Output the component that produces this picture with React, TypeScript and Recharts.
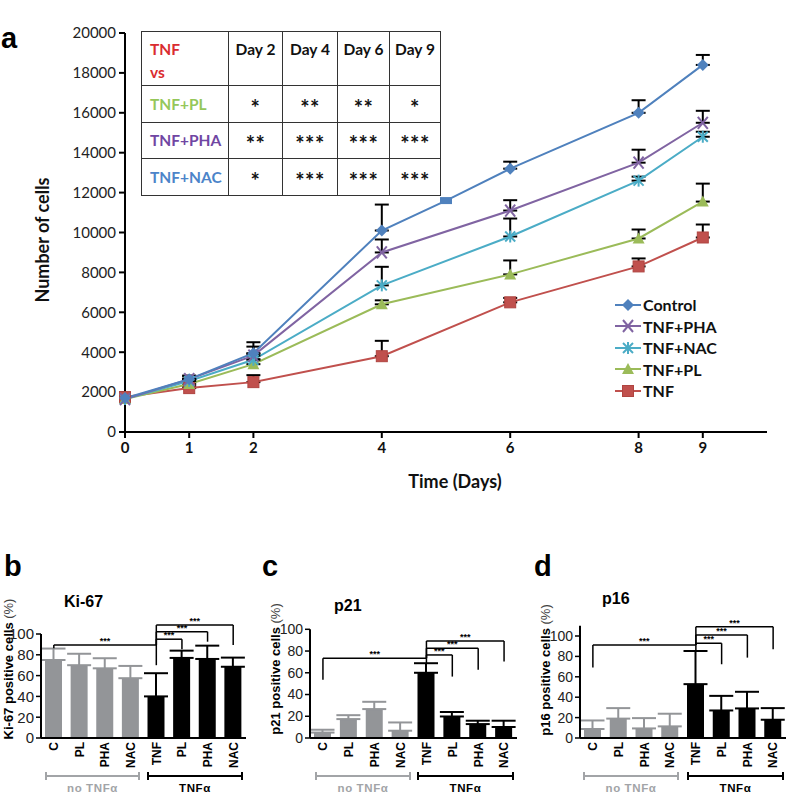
import React from "react";
import {
  LineChart,
  Line,
  XAxis,
  YAxis,
  ErrorBar,
  Legend,
  BarChart,
  Bar,
  Cell,
  ReferenceLine,
} from "recharts";

// ---------- panel a: number of cells over time ----------
const days = [0, 1, 2, 4, 5, 6, 8, 9];
const dayTicks = [0, 1, 2, 4, 6, 8, 9];
const cellTicks = [0, 2000, 4000, 6000, 8000, 10000, 12000, 14000, 16000, 18000, 20000];

const controlCells = [1700, 2650, 3950, 10100, 11600, 13200, 16000, 18400];
const controlUp = [0, 180, 550, 1300, 0, 350, 630, 500];
const phaCells = [1650, 2650, 3830, 9000, null, 11100, 13500, 15500];
const phaUp = [0, 150, 450, 650, 0, 520, 650, 600];
const nacCells = [1650, 2560, 3620, 7350, null, 9800, 12600, 14800];
const nacUp = [0, 120, 300, 930, 0, 900, 200, 250];
const plCells = [1650, 2410, 3400, 6400, null, 7900, 9700, 11550];
const plUp = [0, 100, 250, 200, 0, 700, 450, 900];
const tnfCells = [1750, 2200, 2500, 3800, null, 6500, 8300, 9750];
const tnfUp = [0, 100, 350, 770, 0, 220, 400, 650];

const series = [
  { key: "control", name: "Control", color: "#4F81BD", shape: "diamond", vals: controlCells, up: controlUp },
  { key: "pha", name: "TNF+PHA", color: "#8064A2", shape: "x", vals: phaCells, up: phaUp },
  { key: "nac", name: "TNF+NAC", color: "#4BACC6", shape: "star", vals: nacCells, up: nacUp },
  { key: "pl", name: "TNF+PL", color: "#9BBB59", shape: "triangle", vals: plCells, up: plUp },
  { key: "tnf", name: "TNF", color: "#C0504D", shape: "square", vals: tnfCells, up: tnfUp },
];

const tableDays = ["Day 2", "Day 4", "Day 6", "Day 9"];
const tableNames = ["TNF+PL", "TNF+PHA", "TNF+NAC"];
const tableColors = ["#95C75A", "#7046A3", "#4C84C9"];
const tableStars = [
  ["*", "**", "**", "*"],
  ["**", "***", "***", "***"],
  ["*", "***", "***", "***"],
];

// ---------- panels b-d: positive cells (%) ----------
const barIds = ["C", "PL0", "PHA0", "NAC0", "TNF", "PL1", "PHA1", "NAC1"];
const barLabels = ["C", "PL", "PHA", "NAC", "TNF", "PL", "PHA", "NAC"];
const withTnf = [false, false, false, false, true, true, true, true];
const pctTicks = [0, 20, 40, 60, 80, 100];

const ki67 = [75, 70, 67, 57.5, 40, 77, 76, 68.5];
const ki67Err = [11, 11, 9.7, 11.8, 22.3, 7, 12.8, 8.8];
const p21 = [5, 17.4, 26.6, 6.7, 60, 19.8, 12.8, 10.1];
const p21Err = [2.6, 3.6, 6.7, 7.6, 8.8, 4.1, 3.1, 5.8];
const p16 = [8.8, 19, 9.4, 11.4, 52.8, 27, 29, 17.9];
const p16Err = [8.4, 10.3, 10.1, 12.4, 32.5, 14.3, 16.3, 11.4];

const ki67Brackets = [
  { from: "C", to: "TNF", y: 89.5, fromEnd: 86.3, toEnd: 70 },
  { from: "TNF", to: "PL1", y: 95, fromEnd: 89.5, toEnd: 85.3 },
  { from: "TNF", to: "PHA1", y: 102.2, fromEnd: 89.5, toEnd: 92.6 },
  { from: "TNF", to: "NAC1", y: 108.6, fromEnd: 89.5, toEnd: 89.5 },
];
const p21Brackets = [
  { from: "C", to: "TNF", y: 73.4, fromEnd: 53.5, toEnd: 68.8 },
  { from: "TNF", to: "PL1", y: 76.4, fromEnd: 73.4, toEnd: 56.5 },
  { from: "TNF", to: "PHA1", y: 82.6, fromEnd: 73.4, toEnd: 62.7 },
  { from: "TNF", to: "NAC1", y: 89.3, fromEnd: 73.4, toEnd: 70.3 },
];
const p16Brackets = [
  { from: "C", to: "TNF", y: 91.2, fromEnd: 69, toEnd: 85.3 },
  { from: "TNF", to: "PL1", y: 92.9, fromEnd: 91.2, toEnd: 72.3 },
  { from: "TNF", to: "PHA1", y: 101, fromEnd: 91.2, toEnd: 78.8 },
  { from: "TNF", to: "NAC1", y: 109.1, fromEnd: 91.2, toEnd: 87 },
];

const GREY = "#939598";
const GREY_TEXT = "#A2A4A7";
const ARIAL = "'Liberation Sans', Arial, sans-serif";
const CAL = "Lato, 'Open Sans', sans-serif";

const lineData = days.map((d, i) => {
  const row: any = { day: d };
  series.forEach((s) => {
    row[s.key] = s.vals[i];
    row[s.key + "Err"] = s.vals[i] != null && s.up[i] ? [0, s.up[i]] : null;
  });
  return row;
});

function Marker({ cx, cy, shape, color }: any) {
  if (cx == null || cy == null) return null;
  switch (shape) {
    case "diamond":
      return <polygon points={`${cx},${cy - 6} ${cx + 6},${cy} ${cx},${cy + 6} ${cx - 6},${cy}`} fill={color} />;
    case "x":
      return (
        <g stroke={color} strokeWidth={2}>
          <line x1={cx - 5} y1={cy - 6} x2={cx + 5} y2={cy + 6} />
          <line x1={cx - 5} y1={cy + 6} x2={cx + 5} y2={cy - 6} />
        </g>
      );
    case "star":
      return (
        <g stroke={color} strokeWidth={2}>
          <line x1={cx - 5} y1={cy - 5} x2={cx + 5} y2={cy + 5} />
          <line x1={cx - 5} y1={cy + 5} x2={cx + 5} y2={cy - 5} />
          <line x1={cx} y1={cy - 6} x2={cx} y2={cy + 6} />
        </g>
      );
    case "triangle":
      return <polygon points={`${cx},${cy - 6} ${cx + 6},${cy + 5} ${cx - 6},${cy + 5}`} fill={color} />;
    case "square":
      return <rect x={cx - 5.5} y={cy - 5.5} width={11} height={11} fill={color} stroke="#B04440" strokeWidth={1} />;
    case "flat":
      return <rect x={cx - 6} y={cy - 3.5} width={12} height={7} fill={color} />;
    default:
      return null;
  }
}

function makeDot(s: any) {
  return (p: any) => {
    const shape = s.key === "control" && p.payload && p.payload.day === 5 ? "flat" : s.shape;
    return (
      <g key={`${s.key}-dot-${p.index}`}>
        <Marker cx={p.cx} cy={p.cy} shape={shape} color={s.color} />
      </g>
    );
  };
}

function LegendBox() {
  return (
    <div style={{ fontFamily: CAL, fontWeight: 700, fontSize: 16, color: "#111" }}>
      {series.map((s) => (
        <div key={s.key} style={{ display: "flex", alignItems: "center", height: 21.5 }}>
          <svg width={28} height={16} style={{ marginRight: 1 }}>
            <line x1={1} x2={27} y1={8} y2={8} stroke={s.color} strokeWidth={2} />
            <Marker cx={14} cy={8} shape={s.shape} color={s.color} />
          </svg>
          <span>{s.name}</span>
        </div>
      ))}
    </div>
  );
}

function StatTable() {
  const cell: React.CSSProperties = { border: "1.5px solid #333", padding: 0, textAlign: "center" };
  return (
    <table
      style={{
        position: "absolute",
        left: 141,
        top: 31,
        width: 299,
        height: 164,
        borderCollapse: "collapse",
        background: "#fff",
        fontFamily: CAL,
        fontWeight: 700,
        fontSize: 15.5,
        color: "#111",
        tableLayout: "fixed",
      }}
    >
      <colgroup>
        <col style={{ width: 87 }} />
        <col style={{ width: 54 }} />
        <col style={{ width: 55 }} />
        <col style={{ width: 52 }} />
        <col style={{ width: 51 }} />
      </colgroup>
      <tbody>
        <tr style={{ height: 54 }}>
          <td style={{ ...cell, textAlign: "left", verticalAlign: "top", paddingLeft: 8, paddingTop: 6, color: "#DA2C30", lineHeight: "23px" }}>
            TNF
            <br />
            vs
          </td>
          {tableDays.map((d) => (
            <td key={d} style={{ ...cell, verticalAlign: "top", paddingTop: 6, lineHeight: "23px" }}>
              {d}
            </td>
          ))}
        </tr>
        {tableNames.map((n, i) => (
          <tr key={n} style={{ height: 36.5 }}>
            <td style={{ ...cell, textAlign: "left", paddingLeft: 8, color: tableColors[i] }}>{n}</td>
            {tableStars[i].map((st, j) => (
              <td key={j} style={{ ...cell, fontSize: 22, paddingTop: 7, letterSpacing: 0.5 }}>
                {st}
              </td>
            ))}
          </tr>
        ))}
      </tbody>
    </table>
  );
}

function CellsPanel() {
  return (
    <div style={{ position: "absolute", left: 0, top: 0 }}>
      <LineChart width={787} height={500} data={lineData} margin={{ top: 33, right: 20, left: 0, bottom: 38 }}>
        <XAxis
          dataKey="day"
          type="number"
          domain={[0, 10]}
          ticks={dayTicks}
          interval={0}
          height={30}
          tickSize={6}
          tickMargin={4}
          axisLine={{ stroke: "#000", strokeWidth: 2 }}
          tickLine={{ stroke: "#000", strokeWidth: 2 }}
          tick={{ fontFamily: CAL, fontSize: 15, fontWeight: 700, fill: "#111" }}
          label={() => (
            <text x={455} y={488} textAnchor="middle" fontFamily={CAL} fontWeight={700} fontSize={18} fill="#111">
              Time (Days)
            </text>
          )}
        />
        <YAxis
          type="number"
          domain={[0, 20000]}
          ticks={cellTicks}
          interval={0}
          width={125}
          tickSize={6}
          tickMargin={3}
          axisLine={{ stroke: "#000", strokeWidth: 2 }}
          tickLine={{ stroke: "#000", strokeWidth: 2 }}
          tick={{ fontFamily: CAL, fontSize: 15, fill: "#222" }}
          label={() => (
            <text
              x={49}
              y={240}
              transform="rotate(-90 49 240)"
              textAnchor="middle"
              fontFamily={CAL}
              fontWeight={700}
              fontSize={18}
              fill="#111"
            >
              Number of cells
            </text>
          )}
        />
        <Legend
          layout="vertical"
          align="center"
          verticalAlign="middle"
          content={<LegendBox />}
          wrapperStyle={{ left: 614, top: 294, width: 160 }}
        />
        {[...series].reverse().map((s) => (
          <Line
            key={s.key}
            dataKey={s.key}
            name={s.name}
            stroke={s.color}
            strokeWidth={2}
            connectNulls
            isAnimationActive={false}
            dot={makeDot(s)}
            activeDot={false}
          >
            <ErrorBar dataKey={s.key + "Err"} direction="y" width={7} stroke="#000" strokeWidth={2} />
          </Line>
        ))}
      </LineChart>
      <StatTable />
      <div style={{ position: "absolute", left: 1, top: 22, fontFamily: ARIAL, fontWeight: 700, fontSize: 29, color: "#000" }}>
        a
      </div>
    </div>
  );
}

function RotTick({ x, y, payload }: any) {
  const idx = barIds.indexOf(payload.value);
  return (
    <g transform={`translate(${x},${y})`}>
      <text transform="rotate(-90)" x={0} y={0} dy="0.36em" textAnchor="end" fontFamily={ARIAL} fontWeight={700} fontSize={12} fill="#000">
        {barLabels[idx]}
      </text>
    </g>
  );
}

function bracketLines(list: any[], prefix: string) {
  const common = { stroke: "#000", strokeWidth: 1.5, ifOverflow: "visible" as const };
  return list.flatMap((b, i) => [
    <ReferenceLine
      key={`${prefix}-h${i}`}
      {...common}
      segment={[
        { x: b.from, y: b.y },
        { x: b.to, y: b.y },
      ]}
      label={{ value: "***", position: "top", offset: 1, fontSize: 9, fontWeight: 700, fill: "#000", fontFamily: ARIAL }}
    />,
    <ReferenceLine
      key={`${prefix}-l${i}`}
      {...common}
      segment={[
        { x: b.from, y: b.y },
        { x: b.from, y: b.fromEnd },
      ]}
    />,
    <ReferenceLine
      key={`${prefix}-r${i}`}
      {...common}
      segment={[
        { x: b.to, y: b.y },
        { x: b.to, y: b.toEnd },
      ]}
    />,
  ]);
}

function GroupMarks({ grey, black }: any) {
  const segs = [
    { r: grey, c: GREY_TEXT, t: "no TNFα" },
    { r: black, c: "#000", t: "TNFα" },
  ];
  return (
    <>
      {segs.map((g, i) => (
        <React.Fragment key={i}>
          <svg width={g.r[1] - g.r[0] + 4} height={10} style={{ position: "absolute", left: g.r[0] - 2, top: 771 }}>
            <g stroke={g.c} strokeWidth={2}>
              <line x1={2} x2={g.r[1] - g.r[0] + 2} y1={5} y2={5} />
              <line x1={2} x2={2} y1={1} y2={9} />
              <line x1={g.r[1] - g.r[0] + 2} x2={g.r[1] - g.r[0] + 2} y1={1} y2={9} />
            </g>
          </svg>
          <div
            style={{
              position: "absolute",
              left: g.r[0],
              width: g.r[1] - g.r[0],
              top: 782,
              lineHeight: "12px",
              textAlign: "center",
              fontFamily: ARIAL,
              fontWeight: 700,
              fontSize: 11.5,
              letterSpacing: 0.6,
              color: g.c,
            }}
          >
            {g.t}
          </div>
        </React.Fragment>
      ))}
    </>
  );
}

function MarkerPanel(props: any) {
  const { left, width, axisW, top, right, max, vals, errs, brackets, id, yLabel, labelX, labelY, tickSize } = props;
  const data = barIds.map((bid, i) => ({
    id: bid,
    v: vals[i],
    errGrey: withTnf[i] ? null : [0, errs[i]],
    errBlack: withTnf[i] ? [0, errs[i]] : null,
  }));
  return (
    <div style={{ position: "absolute", left, top: 590 }}>
      <BarChart width={width} height={204} data={data} margin={{ top, right, left: 0, bottom: 0 }} barSize={17}>
        <XAxis
          dataKey="id"
          height={56}
          interval={0}
          tickLine={false}
          tickSize={4}
          tickMargin={0}
          axisLine={{ stroke: "#000", strokeWidth: 2 }}
          tick={<RotTick />}
        />
        <YAxis
          type="number"
          domain={[0, max]}
          ticks={pctTicks}
          interval={0}
          width={axisW}
          tickSize={5}
          tickMargin={2}
          axisLine={{ stroke: "#000", strokeWidth: 2 }}
          tickLine={{ stroke: "#000", strokeWidth: 1.5 }}
          tick={{ fontFamily: ARIAL, fontSize: tickSize, fill: "#222" }}
          label={() => (
            <text
              x={labelX}
              y={labelY}
              transform={`rotate(-90 ${labelX} ${labelY})`}
              textAnchor="middle"
              dominantBaseline="central"
              fontFamily={ARIAL}
              fontSize={13}
              fill="#000"
            >
              <tspan fontWeight={700}>{yLabel} positive cells </tspan>
              <tspan fill="#444">(%)</tspan>
            </text>
          )}
        />
        <Bar dataKey="v" isAnimationActive={false}>
          {data.map((d, i) => (
            <Cell key={d.id} fill={withTnf[i] ? "#000" : GREY} />
          ))}
          <ErrorBar dataKey="errGrey" direction="y" width={12} stroke={GREY} strokeWidth={2} />
          <ErrorBar dataKey="errBlack" direction="y" width={12} stroke="#000" strokeWidth={2} />
        </Bar>
        {bracketLines(brackets, id)}
      </BarChart>
    </div>
  );
}

function PanelText({ x, y, size, children }: any) {
  return (
    <div style={{ position: "absolute", left: x, top: y, fontFamily: ARIAL, fontWeight: 700, fontSize: size, color: "#000", lineHeight: 1 }}>
      {children}
    </div>
  );
}

export default function App() {
  return (
    <div style={{ position: "absolute", left: 0, top: 0, width: 787, height: 794, overflow: "hidden", background: "#fff" }}>
      <CellsPanel />

      <MarkerPanel
        id="ki67"
        left={0}
        width={260}
        axisW={41}
        top={44}
        right={14}
        max={100}
        vals={ki67}
        errs={ki67Err}
        brackets={ki67Brackets}
        yLabel="Ki-67"
        labelX={8}
        labelY={79}
        tickSize={15}
      />
      <MarkerPanel
        id="p21"
        left={262}
        width={260}
        axisW={48}
        top={39.3}
        right={5}
        max={100}
        vals={p21}
        errs={p21Err}
        brackets={p21Brackets}
        yLabel="p21"
        labelX={13}
        labelY={79}
        tickSize={14}
      />
      <MarkerPanel
        id="p16"
        left={525}
        width={262}
        axisW={55}
        top={35.8}
        right={1}
        max={110}
        vals={p16}
        errs={p16Err}
        brackets={p16Brackets}
        yLabel="p16"
        labelX={20}
        labelY={80}
        tickSize={14}
      />

      <GroupMarks grey={[46, 139]} black={[148, 242]} />
      <GroupMarks grey={[316, 410]} black={[418, 513]} />
      <GroupMarks grey={[584, 678]} black={[688, 783]} />

      <PanelText x={4} y={552} size={29}>b</PanelText>
      <PanelText x={262} y={552} size={29}>c</PanelText>
      <PanelText x={534} y={552} size={29}>d</PanelText>
      <PanelText x={64} y={594} size={16}>Ki-67</PanelText>
      <PanelText x={334} y={598} size={16}>p21</PanelText>
      <PanelText x={602} y={591} size={16}>p16</PanelText>
    </div>
  );
}
